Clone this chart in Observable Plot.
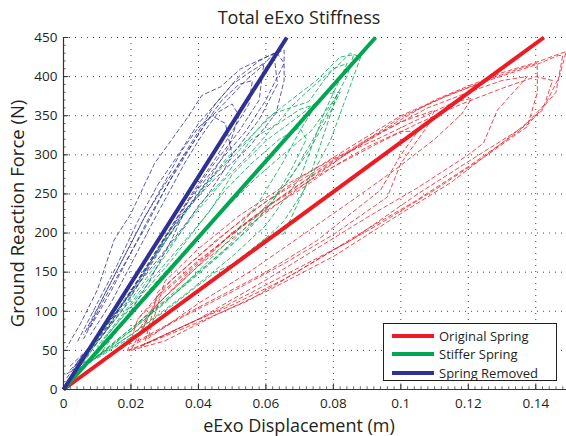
<!DOCTYPE html>
<html>
<head>
<meta charset="utf-8">
<script src="https://cdn.jsdelivr.net/npm/d3@7"></script>
<script src="https://cdn.jsdelivr.net/npm/@observablehq/plot@0.6"></script>
<style>
  html, body { margin: 0; padding: 0; background: #fff; }
  #wrap { position: relative; width: 566px; height: 436px; font-family: "Open Sans", sans-serif; color: #231f20; }
  #legend { position: absolute; left: 383px; top: 323px; width: 174px; height: 58px; border: 1px solid #231f20; background: #fff; box-sizing: border-box; }
  .row { position: absolute; left: 0; height: 18px; display: flex; align-items: center; font-size: 13px; white-space: nowrap; }
  .sw { width: 42px; height: 4.5px; margin-left: 8px; margin-right: 5px; }
</style>
</head>
<body>
<div id="wrap"><div id="legend"></div></div>
<script>
// Axis ticks
const xTicks = [0, 0.02, 0.04, 0.06, 0.08, 0.1, 0.12, 0.14];
const yTicks = [0, 50, 100, 150, 200, 250, 300, 350, 400, 450];

// Series
const seriesNames = ["Original Spring", "Stiffer Spring", "Spring Removed"];
const seriesColors = ["#ed1c24", "#00a651", "#2e3192"];
// Fitted stiffness lines: end point (start at origin)
const fitEndX = [0.1424, 0.0925, 0.0662];
const fitEndY = [450, 450, 450];

const redLoops = [
  [[0.019,50],[0.03,68],[0.04,86],[0.055,114],[0.073,160],[0.09,205],[0.104,240],[0.12,285],[0.135,330],[0.143,366],[0.147,400],[0.149,432],[0.145,426],[0.14,418],[0.13,405],[0.12,388],[0.11,370],[0.1,345],[0.09,318],[0.08,290],[0.07,262],[0.06,233],[0.05,200],[0.04,163],[0.03,125],[0.022,90],[0.019,50]],
  [[0.021,52],[0.035,80],[0.05,108],[0.065,140],[0.08,178],[0.095,215],[0.11,255],[0.125,298],[0.1375,336],[0.1405,380],[0.1404,417],[0.135,410],[0.125,395],[0.112,372],[0.1,348],[0.085,305],[0.07,258],[0.055,210],[0.04,158],[0.03,118],[0.021,80]],
  [[0.023,55],[0.04,90],[0.06,140],[0.075,180],[0.09,220],[0.105,258],[0.12,300],[0.1245,315],[0.1286,357],[0.1375,400],[0.13,395],[0.12,380],[0.108,360],[0.095,330],[0.08,292],[0.065,248],[0.05,200],[0.038,150],[0.028,110],[0.022,75]],
  [[0.02,55],[0.035,92],[0.05,125],[0.065,160],[0.08,198],[0.096,246],[0.1,289],[0.1078,336],[0.11,357],[0.1,342],[0.09,320],[0.075,280],[0.06,240],[0.045,190],[0.032,140],[0.022,90]],
  [[0.022,62],[0.04,105],[0.06,150],[0.075,190],[0.094,255],[0.1,300],[0.105,330],[0.1,330],[0.09,310],[0.08,285],[0.07,255],[0.055,215],[0.04,165],[0.028,120],[0.022,62]],
  [[0.024,58],[0.045,100],[0.065,145],[0.085,190],[0.105,250],[0.125,305],[0.138,340],[0.146,380],[0.148,427],[0.1467,427],[0.14,415],[0.128,398],[0.115,378],[0.1,350],[0.085,310],[0.07,270],[0.055,225],[0.04,170],[0.028,125],[0.024,58]],
  [[0.02,50],[0.03,62],[0.045,95],[0.06,125],[0.08,170],[0.1,225],[0.115,265],[0.13,315],[0.142,357],[0.145,395],[0.14,400],[0.13,385],[0.118,365],[0.105,340],[0.092,312],[0.078,280],[0.062,238],[0.048,192],[0.036,145],[0.026,100],[0.02,50]],
  [[0.025,65],[0.04,110],[0.055,150],[0.07,195],[0.085,240],[0.098,280],[0.11,320],[0.118,352],[0.121,372],[0.116,368],[0.105,345],[0.093,320],[0.08,295],[0.066,262],[0.052,222],[0.04,180],[0.03,138],[0.025,65]]
];
const greenLoops = [
  [[0.004,25],[0.015,55],[0.03,100],[0.045,150],[0.0525,165],[0.0604,195],[0.0653,215],[0.0713,255],[0.0792,319],[0.0881,425],[0.085,430],[0.078,400],[0.0727,368],[0.0624,353],[0.0545,319],[0.0486,297],[0.04,250],[0.03,190],[0.02,120],[0.01,60],[0.004,25]],
  [[0.005,28],[0.02,70],[0.035,118],[0.05,170],[0.06,210],[0.0703,272],[0.0772,353],[0.0841,417],[0.08,410],[0.072,380],[0.0674,361],[0.0634,340],[0.0555,319],[0.0476,270],[0.04,235],[0.03,170],[0.02,110],[0.01,55]],
  [[0.006,30],[0.02,75],[0.035,130],[0.048,180],[0.058,225],[0.0653,260],[0.072,300],[0.078,345],[0.082,380],[0.078,378],[0.07,350],[0.06,318],[0.05,275],[0.0436,229],[0.035,185],[0.025,135],[0.015,80],[0.006,30]],
  [[0.004,22],[0.015,58],[0.03,110],[0.042,160],[0.05,195],[0.058,240],[0.065,290],[0.07,330],[0.075,365],[0.07,358],[0.062,335],[0.055,300],[0.047,265],[0.04,230],[0.03,175],[0.02,115],[0.01,60],[0.004,22]],
  [[0.01,40],[0.025,80],[0.04,125],[0.05,160],[0.0604,195],[0.0653,199],[0.0713,255],[0.0733,276],[0.0812,378],[0.0802,370],[0.0733,330],[0.065,300],[0.057,270],[0.05,240],[0.04,195],[0.03,150],[0.02,100],[0.01,40]],
  [[0.003,20],[0.012,50],[0.025,95],[0.038,140],[0.05,185],[0.06,230],[0.068,275],[0.074,320],[0.079,360],[0.084,400],[0.086,428],[0.082,425],[0.075,395],[0.068,372],[0.06,345],[0.052,305],[0.045,275],[0.036,225],[0.027,170],[0.018,115],[0.009,55]],
  [[0.008,35],[0.02,78],[0.033,125],[0.045,168],[0.055,205],[0.062,240],[0.068,285],[0.072,320],[0.07,335],[0.064,320],[0.056,290],[0.048,255],[0.04,210],[0.032,165],[0.022,115],[0.012,65]]
];
const blueLoops = [
  [[0.001,20],[0.009,42],[0.017,80],[0.025,135],[0.032,191],[0.036,229],[0.045,270],[0.055,310],[0.063,353],[0.0654,395],[0.0654,434],[0.06,425],[0.0525,410],[0.0466,387],[0.041,376],[0.037,349],[0.032,319],[0.027,289],[0.02,225],[0.015,191],[0.01,127],[0.005,84],[0.001,54]],
  [[0.002,25],[0.01,60],[0.018,105],[0.026,160],[0.034,215],[0.042,262],[0.05,300],[0.058,345],[0.0634,390],[0.0624,430],[0.058,420],[0.052,400],[0.046,370],[0.04,340],[0.034,300],[0.028,262],[0.022,215],[0.016,160],[0.01,110],[0.004,60]],
  [[0.003,28],[0.012,72],[0.02,125],[0.028,180],[0.036,235],[0.044,285],[0.052,330],[0.058,370],[0.0594,417],[0.055,405],[0.05,390],[0.045,365],[0.04,330],[0.035,295],[0.03,255],[0.024,205],[0.018,160],[0.012,115],[0.006,65]],
  [[0.004,35],[0.014,85],[0.022,140],[0.03,195],[0.038,250],[0.045,295],[0.05,330],[0.055,365],[0.056,395],[0.052,390],[0.047,370],[0.042,340],[0.037,305],[0.032,270],[0.026,225],[0.02,175],[0.014,125],[0.008,80]],
  [[0.005,40],[0.015,95],[0.025,150],[0.035,205],[0.043,250],[0.0475,280],[0.05,300],[0.048,340],[0.044,350],[0.04,335],[0.035,305],[0.03,265],[0.024,220],[0.018,170],[0.012,120],[0.007,75]],
  [[0.001,15],[0.006,45],[0.013,85],[0.021,130],[0.029,185],[0.037,240],[0.046,290],[0.054,330],[0.06,370],[0.0654,417],[0.063,432],[0.058,410],[0.054,395],[0.049,372],[0.043,345],[0.036,300],[0.03,262],[0.024,220],[0.018,170],[0.012,120],[0.006,70]],
  [[0.002,30],[0.008,55],[0.016,100],[0.024,150],[0.031,200],[0.038,240],[0.044,275],[0.049,310],[0.052,350],[0.05,365],[0.046,355],[0.041,325],[0.036,290],[0.031,250],[0.026,210],[0.02,160],[0.014,110],[0.008,70]]
];

// Build tables for the library
const allLoops = [redLoops, greenLoops, blueLoops];
const dashRows = [];
allLoops.forEach((loops, s) => loops.forEach((loop, k) => loop.forEach(([x, y], i) =>
  dashRows.push({series: seriesNames[s], loop: s + "-" + k, i, x, y}))));
const fitRows = [];
seriesNames.forEach((name, s) => {
  fitRows.push({series: name, x: 0, y: 0});
  fitRows.push({series: name, x: fitEndX[s], y: fitEndY[s]});
});
const colorScale = {domain: seriesNames, range: seriesColors};
const xMinor = d3.range(0, 0.1501, 0.002);
const yMinor = d3.range(0, 451, 10);
const xGrid = xTicks.slice(1);
const yGrid = yTicks.slice(1);

const chart = Plot.plot({
  width: 566,
  height: 436,
  marginLeft: 63,
  marginRight: 0,
  marginTop: 37,
  marginBottom: 47,
  style: {fontFamily: "Open Sans, sans-serif", fontSize: "13px", color: "#231f20", background: "transparent"},
  x: {domain: [0, 0.15], range: [63, 569]},
  y: {domain: [0, 450]},
  color: colorScale,
  marks: [
    Plot.ruleX(xGrid, {x: d => d, stroke: "#444", strokeDasharray: "1,5", strokeWidth: 1}),
    Plot.ruleY(yGrid, {y: d => d, stroke: "#444", strokeDasharray: "1,5", strokeWidth: 1}),
    Plot.line(dashRows, {x: "x", y: "y", z: "loop", stroke: "series", strokeWidth: 0.8, strokeDasharray: "4,3", curve: "linear"}),
    Plot.line(fitRows, {x: "x", y: "y", z: "series", stroke: "series", strokeWidth: 4, strokeLinecap: "butt"}),
    Plot.ruleX(xMinor, {x: d => d, y1: 0, y2: 3.5, stroke: "#444", strokeWidth: 0.8}),
    Plot.ruleX(xTicks, {x: d => d, y1: 0, y2: 7, stroke: "#333", strokeWidth: 1}),
    Plot.ruleY(yMinor, {y: d => d, x1: 0, x2: 0.0008, stroke: "#444", strokeWidth: 0.8}),
    Plot.ruleY(yTicks, {y: d => d, x1: 0, x2: 0.0016, stroke: "#333", strokeWidth: 1}),
    Plot.ruleX([0], {stroke: "#333", strokeWidth: 1.2}),
    Plot.ruleY([0], {stroke: "#333", strokeWidth: 1.2}),
    Plot.axisX(xTicks, {tickSize: 0, tickPadding: 9, tickFormat: d => String(d), fontSize: 13.5, label: null}),
    Plot.axisY(yTicks, {tickSize: 0, tickPadding: 6, tickFormat: d => String(d), fontSize: 13.5, label: null}),
    Plot.text(["Total eExo Stiffness"], {frameAnchor: "top", dx: -16, dy: -19, text: d => d, fontSize: 18, lineAnchor: "middle"}),
    Plot.text(["eExo Displacement (m)"], {frameAnchor: "bottom", dx: -16, dy: 37, text: d => d, fontSize: 18, lineAnchor: "middle"}),
    Plot.text(["Ground Reaction Force (N)"], {frameAnchor: "left", textAnchor: "middle", dx: -45, rotate: -90, text: d => d, fontSize: 18.5, lineAnchor: "middle"})
  ]
});
const wrap = document.getElementById("wrap");
wrap.insertBefore(chart, wrap.firstChild);
chart.style.position = "absolute";
chart.style.left = "0px";
chart.style.top = "0px";

// Legend
const legend = document.getElementById("legend");
const rowTops = [3, 21, 40];
seriesNames.forEach((name, s) => {
  const row = document.createElement("div");
  row.className = "row";
  row.style.top = rowTops[s] + "px";
  const sw = document.createElement("div");
  sw.className = "sw";
  sw.style.background = seriesColors[s];
  const lab = document.createElement("span");
  lab.textContent = name;
  row.appendChild(sw);
  row.appendChild(lab);
  legend.appendChild(row);
});
</script>
</body>
</html>
